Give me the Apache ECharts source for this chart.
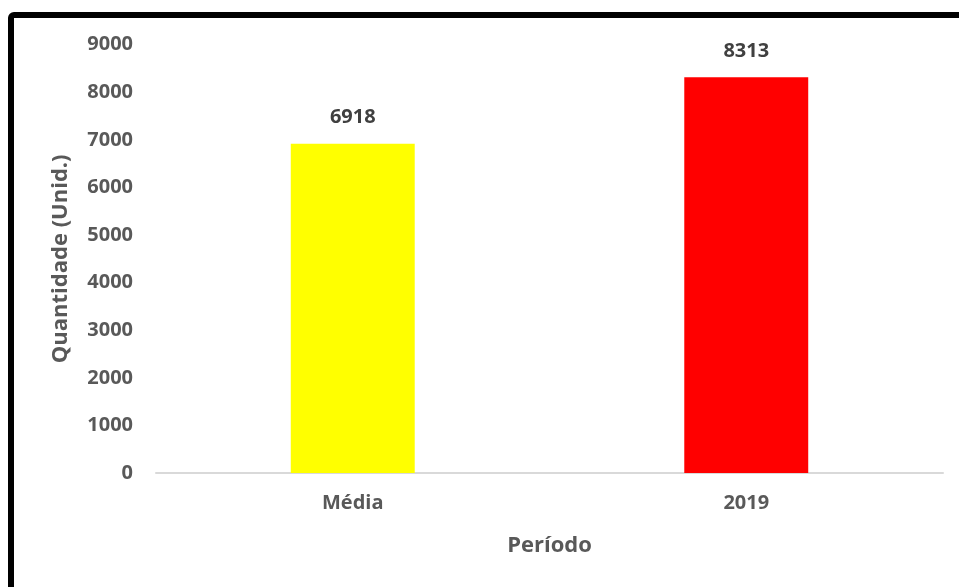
<!DOCTYPE html>
<html>
<head>
<meta charset="utf-8">
<script src="https://cdn.jsdelivr.net/npm/echarts@6/dist/echarts.min.js"></script>
<style>html,body{margin:0;padding:0;background:#fff}#c{width:959px;height:587px}</style>
</head>
<body>
<div id="c"></div>
<script>
const categories = ["Média", "2019"];
const values = [6918, 8313];
const barColors = ["#FFFF00", "#FF0000"];
const yTicks = [0, 1000, 2000, 3000, 4000, 5000, 6000, 7000, 8000, 9000];

const FONT = "'Open Sans', 'Noto Sans', sans-serif";
const chart = echarts.init(document.getElementById('c'), null, {renderer: 'canvas'});
chart.setOption({
  animation: false,
  backgroundColor: '#ffffff',
  graphic: [{
    type: 'rect',
    shape: {x: 11, y: 15, width: 1000, height: 1000, r: 3},
    style: {fill: 'none', stroke: '#000', lineWidth: 6},
    z: 100
  }],
  grid: {left: 156, right: 16, top: 44.6, bottom: 114},
  xAxis: {
    type: 'category',
    data: categories,
    axisLine: {lineStyle: {color: '#D9D9D9', width: 2}},
    axisTick: {show: false},
    axisLabel: {color: '#595959', fontFamily: FONT, fontWeight: 'bold', fontSize: 20, margin: 20},
    name: 'Período',
    nameLocation: 'middle',
    nameGap: 62,
    nameTextStyle: {color: '#595959', fontFamily: FONT, fontWeight: 'bold', fontSize: 22}
  },
  yAxis: {
    type: 'value',
    min: yTicks[0],
    max: yTicks[yTicks.length - 1],
    interval: 1000,
    splitLine: {show: false},
    axisLine: {show: false},
    axisTick: {show: false},
    axisLabel: {color: '#595959', fontFamily: FONT, fontWeight: 'bold', fontSize: 20, margin: 23,
      formatter: v => String(v)},
    name: 'Quantidade (Unid.)',
    nameLocation: 'middle',
    nameGap: 84,
    nameRotate: 90,
    nameTextStyle: {color: '#595959', fontFamily: FONT, fontWeight: 'bold', fontSize: 22}
  },
  series: [{
    type: 'bar',
    data: values.map((v, i) => ({value: v, itemStyle: {color: barColors[i]}})),
    barWidth: '31.5%',
    label: {
      show: true,
      position: 'top',
      distance: 16,
      color: '#404040',
      fontFamily: FONT,
      fontWeight: 'bold',
      fontSize: 20
    }
  }]
});
</script>
</body>
</html>
